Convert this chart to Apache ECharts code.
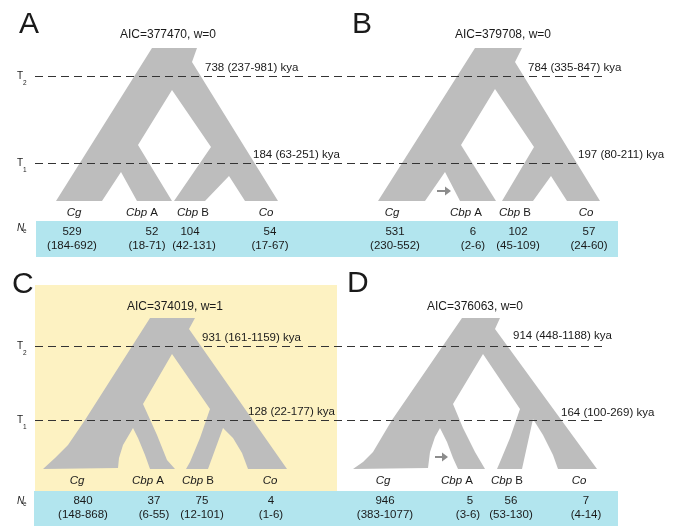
<!DOCTYPE html>
<html>
<head>
<meta charset="utf-8">
<script src="https://cdn.jsdelivr.net/npm/echarts@6.0.0/dist/echarts.min.js"></script>
<style>
html, body { margin: 0; padding: 0; background: #fff; }
#main { width: 679px; height: 526px; }
</style>
</head>
<body>
<div id="main"></div>
<script>
var myChart = echarts.init(document.getElementById('main'));

// ---- model values ----
var panelNames = ['A', 'B', 'C', 'D'];
var aicValues = [377470, 379708, 374019, 376063];
var aicWeights = [0, 0, 1, 0];
var t2Kya = [[738, 237, 981], [784, 335, 847], [931, 161, 1159], [914, 448, 1188]];
var t1Kya = [[184, 63, 251], [197, 80, 211], [128, 22, 177], [164, 100, 269]];
var speciesNames = ['Cg', 'Cbp A', 'Cbp B', 'Co'];
var neEstimates = [
    [[529, 184, 692], [52, 18, 71], [104, 42, 131], [54, 17, 67]],
    [[531, 230, 552], [6, 2, 6], [102, 45, 109], [57, 24, 60]],
    [[840, 148, 868], [37, 6, 55], [75, 12, 101], [4, 1, 6]],
    [[946, 383, 1077], [5, 3, 6], [56, 53, 130], [7, 4, 14]]
];
var hasMigration = [false, true, false, true];

// tree outlines (panel-local units)
var treeOutlines = [
    [[56, 201], [152, 48], [197, 48], [192, 62], [278, 201], [245, 201], [229, 176], [205, 201], [174, 201],
     [211, 147], [172, 90], [138, 145], [172, 201], [137, 201], [121, 172], [102, 201]],
    [[38, 201], [135, 48], [182, 48], [175, 62], [260, 201], [227, 201], [211, 176], [193, 201], [162, 201],
     [194, 147], [155, 89], [121, 145], [156, 201], [120, 201], [105, 172], [85, 201]],
    [[43, 206], [55, 195], [68, 182], [85, 157], [150, 55], [195, 55], [189, 66], [287, 206], [248, 206],
     [242, 190], [233, 175], [223, 165], [208, 206], [186, 206], [190, 199], [200, 175], [210, 146],
     [172, 91], [143, 141], [157, 172], [167, 197], [175, 206], [150, 206], [145, 192], [138, 175],
     [133, 165], [123, 182], [119, 195], [118, 205]],
    [[13, 206], [23, 199], [33, 189], [52, 157], [122, 55], [160, 55], [155, 66], [257, 206], [218, 206],
     [213, 192], [203, 172], [193, 156], [182, 206], [157, 206], [160, 199], [170, 175], [180, 146],
     [143, 91], [113, 141], [123, 165], [135, 189], [145, 206], [118, 206], [113, 195], [107, 179],
     [100, 165], [95, 174], [90, 189], [88, 205]]
];

// ---- layout ----
var panelOrigin = [[0, 0], [340, 0], [0, 263], [340, 263]];
var letterPos = [[19, 25], [12, 25], [12, 22], [7, 21]];
var aicPos = [[168, 35], [163, 35], [175, 44], [135, 44]];
var t2LabelPos = [[205, 68], [188, 68], [202, 75], [173, 73]];
var t1LabelPos = [[253, 155], [238, 155], [248, 149], [221, 150]];
var speciesX = [[74, 142, 193, 266], [52, 126, 175, 246], [77, 148, 198, 270], [43, 117, 167, 239]];
var speciesY = [213, 213, 218, 218];
var neX1 = [[72, 152, 190, 270], [55, 133, 178, 249], [83, 154, 202, 271], [45, 130, 171, 246]];
var neX2 = [[72, 147, 194, 270], [55, 133, 178, 249], [83, 154, 202, 271], [45, 128, 171, 246]];
var neY = [[232, 246], [232, 246], [238, 252], [238, 252]];
var arrowPos = [null, [97, 191, 111], null, [95, 194, 108]];
var rowLines = [
    { t2: 76, t1: 163, t1End: 577, neTop: 221, neBottom: 257, neLeft: 36, neLabelY: 228 },
    { t2: 346, t1: 420, t1End: 603, neTop: 491, neBottom: 526, neLeft: 34, neLabelY: 501 }
];
var lineStart = 35, lineEnd = 603, neRight = 618;
var bestBox = [35, 285, 337, 491];

var FONT = '"Liberation Sans", Arial, Helvetica, sans-serif';
var textColor = '#1a1a1a';
var treeColor = '#bdbdbd';

function fmtRange(v) {
    return v[0] + ' (' + v[1] + '-' + v[2] + ') kya';
}

// background boxes
var boxes = [];
var boxColors = [];
boxes.push(bestBox);
boxColors.push('#fdf2c2');
rowLines.forEach(function (r) {
    boxes.push([r.neLeft, r.neTop, neRight, r.neBottom]);
    boxColors.push('#b2e5ee');
});

// dashed time lines
var dashLines = [];
rowLines.forEach(function (r) {
    dashLines.push([lineStart, r.t2, lineEnd, r.t2]);
    dashLines.push([lineStart, r.t1, r.t1End, r.t1]);
});

// text labels
var labels = [];
function addLabel(x, y, text, kind) {
    labels.push({ x: x, y: y, text: text, kind: kind });
}
panelNames.forEach(function (name, i) {
    var o = panelOrigin[i];
    addLabel(o[0] + letterPos[i][0], o[1] + letterPos[i][1], name, 'letter');
    addLabel(o[0] + aicPos[i][0], o[1] + aicPos[i][1], 'AIC=' + aicValues[i] + ', w=' + aicWeights[i], 'aic');
    addLabel(o[0] + t2LabelPos[i][0], o[1] + t2LabelPos[i][1], fmtRange(t2Kya[i]), 'left');
    addLabel(o[0] + t1LabelPos[i][0], o[1] + t1LabelPos[i][1], fmtRange(t1Kya[i]), 'left');
    speciesNames.forEach(function (sp, k) {
        addLabel(o[0] + speciesX[i][k], o[1] + speciesY[i], sp, 'species');
        var ne = neEstimates[i][k];
        addLabel(o[0] + neX1[i][k], o[1] + neY[i][0], String(ne[0]), 'center');
        addLabel(o[0] + neX2[i][k], o[1] + neY[i][1], '(' + ne[1] + '-' + ne[2] + ')', 'center');
    });
});
rowLines.forEach(function (r) {
    addLabel(17, r.t2, 'T', 'tMain');
    addLabel(23, r.t2 + 7, '2', 'sub');
    addLabel(17, r.t1, 'T', 'tMain');
    addLabel(23, r.t1 + 7, '1', 'sub');
    addLabel(17, r.neLabelY, 'N', 'nMain');
    addLabel(23, r.neLabelY + 3, 'e', 'sub');
});

var labelStyles = {
    letter: { fontSize: 30, align: 'left' },
    aic: { fontSize: 12, align: 'center' },
    center: { fontSize: 11.5, align: 'center' },
    left: { fontSize: 11.5, align: 'left' },
    species: { fontSize: 11.5, align: 'center' },
    tMain: { fontSize: 10, align: 'left' },
    nMain: { fontSize: 10, align: 'left', fontStyle: 'italic' },
    sub: { fontSize: 6.5, align: 'left' }
};

option = {
    backgroundColor: '#ffffff',
    animation: false,
    grid: { left: 0, right: 0, top: 0, bottom: 0 },
    xAxis: { type: 'value', min: 0, max: 679, show: false },
    yAxis: { type: 'value', min: 0, max: 526, inverse: true, show: false },
    series: [
        {
            name: 'boxes',
            type: 'custom',
            silent: true,
            z: 1,
            data: boxes,
            renderItem: function (params, api) {
                var p0 = api.coord([api.value(0), api.value(1)]);
                var p1 = api.coord([api.value(2), api.value(3)]);
                return {
                    type: 'rect',
                    shape: { x: p0[0], y: p0[1], width: p1[0] - p0[0], height: p1[1] - p0[1] },
                    style: { fill: boxColors[params.dataIndex] }
                };
            }
        },
        {
            name: 'trees',
            type: 'custom',
            silent: true,
            z: 2,
            data: panelNames.map(function (n, i) { return [i, 0]; }),
            renderItem: function (params, api) {
                var i = params.dataIndex;
                var o = panelOrigin[i];
                var pts = treeOutlines[i].map(function (p) {
                    return api.coord([o[0] + p[0], o[1] + p[1]]);
                });
                return { type: 'polygon', shape: { points: pts }, style: { fill: treeColor } };
            }
        },
        {
            name: 'time lines',
            type: 'custom',
            silent: true,
            z: 3,
            data: dashLines,
            renderItem: function (params, api) {
                var p0 = api.coord([api.value(0), api.value(1)]);
                var p1 = api.coord([api.value(2), api.value(3)]);
                return {
                    type: 'line',
                    shape: { x1: p0[0], y1: Math.round(p0[1]) + 0.5, x2: p1[0], y2: Math.round(p1[1]) + 0.5 },
                    style: { stroke: '#333', lineWidth: 1, lineDash: [8, 5] }
                };
            }
        },
        {
            name: 'migration',
            type: 'custom',
            silent: true,
            z: 4,
            data: panelNames.map(function (n, i) { return [i, 0]; }).filter(function (d) { return hasMigration[d[0]]; }),
            renderItem: function (params, api) {
                var i = api.value(0);
                var o = panelOrigin[i];
                var a = arrowPos[i];
                var s = api.coord([o[0] + a[0], o[1] + a[1]]);
                var e = api.coord([o[0] + a[2], o[1] + a[1]]);
                return {
                    type: 'group',
                    children: [
                        { type: 'line', shape: { x1: s[0], y1: s[1], x2: e[0] - 4, y2: e[1] },
                          style: { stroke: '#8c8c8c', lineWidth: 2 } },
                        { type: 'polygon', shape: { points: [[e[0] - 6, e[1] - 4.5], [e[0], e[1]], [e[0] - 6, e[1] + 4.5]] },
                          style: { fill: '#8c8c8c' } }
                    ]
                };
            }
        },
        {
            name: 'labels',
            type: 'custom',
            silent: true,
            z: 5,
            data: labels.map(function (l) { return [l.x, l.y]; }),
            renderItem: function (params, api) {
                var l = labels[params.dataIndex];
                var st = labelStyles[l.kind];
                var p = api.coord([api.value(0), api.value(1)]);
                var text = l.text;
                var rich = {};
                if (l.kind === 'species') {
                    var parts = text.split(' ');
                    text = '{i|' + parts[0] + '}' + (parts[1] ? '{n| ' + parts[1] + '}' : '');
                    rich = {
                        i: { fontSize: st.fontSize, fontFamily: FONT, fontStyle: 'italic', fill: textColor },
                        n: { fontSize: st.fontSize, fontFamily: FONT, fill: textColor }
                    };
                }
                return {
                    type: 'text',
                    x: p[0],
                    y: p[1],
                    style: {
                        text: text,
                        rich: rich,
                        fill: textColor,
                        fontSize: st.fontSize,
                        fontFamily: FONT,
                        fontStyle: st.fontStyle || 'normal',
                        align: st.align,
                        verticalAlign: 'middle'
                    }
                };
            }
        }
    ]
};
myChart.setOption(option);
</script>
</body>
</html>
